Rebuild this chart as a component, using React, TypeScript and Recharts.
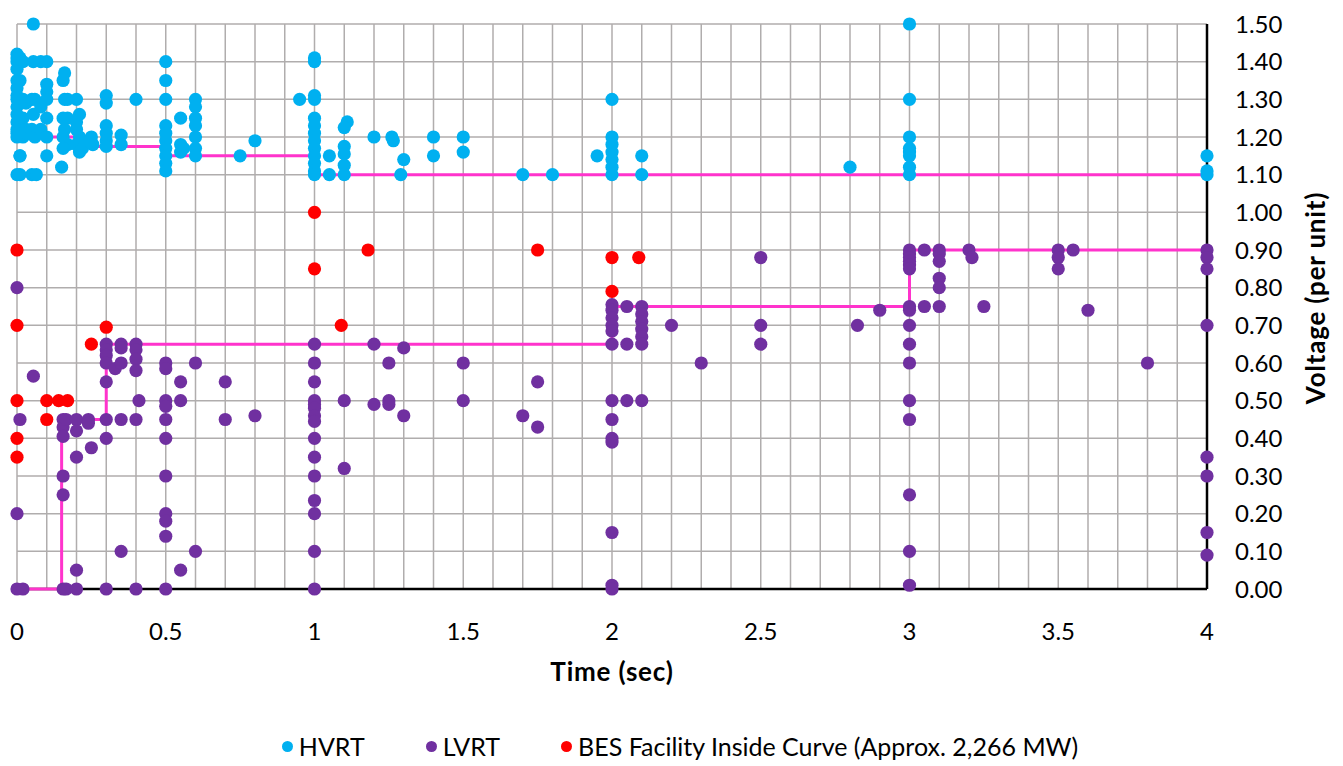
import React from "react";
import { ScatterChart, Scatter, XAxis, YAxis, CartesianGrid, Legend } from "recharts";

// axis ticks (grid every 0.1)
const timeTicks = [
  0, 0.1, 0.2, 0.3, 0.4, 0.5, 0.6, 0.7, 0.8, 0.9, 1, 1.1, 1.2, 1.3, 1.4, 1.5, 1.6, 1.7, 1.8, 1.9, 2,
  2.1, 2.2, 2.3, 2.4, 2.5, 2.6, 2.7, 2.8, 2.9, 3, 3.1, 3.2, 3.3, 3.4, 3.5, 3.6, 3.7, 3.8, 3.9, 4,
];
const voltTicks = [0, 0.1, 0.2, 0.3, 0.4, 0.5, 0.6, 0.7, 0.8, 0.9, 1, 1.1, 1.2, 1.3, 1.4, 1.5];

const legendNames = ["HVRT", "LVRT", "BES Facility Inside Curve (Approx. 2,266 MW)"];

// [time (sec), voltage (pu)]
const hvrtPoints: [number, number][] = [
  [0, 1.42], [0, 1.41], [0, 1.4], [0, 1.38], [0, 1.35], [0, 1.33], [0, 1.31], [0, 1.3], [0, 1.28],
  [0, 1.26], [0, 1.24], [0, 1.22], [0, 1.21], [0, 1.2], [0.01, 1.15], [0, 1.1],
  [0.01, 1.41], [0.02, 1.4], [0.01, 1.35], [0.02, 1.3], [0.03, 1.29], [0.02, 1.25], [0.03, 1.22],
  [0.02, 1.2], [0.03, 1.21], [0.01, 1.15], [0.01, 1.1],
  [0.055, 1.5], [0.055, 1.4], [0.05, 1.3], [0.06, 1.3], [0.055, 1.26], [0.05, 1.22], [0.06, 1.2],
  [0.05, 1.1], [0.065, 1.1],
  [0.08, 1.4], [0.1, 1.4], [0.1, 1.34], [0.1, 1.32], [0.1, 1.3], [0.08, 1.28], [0.1, 1.25],
  [0.08, 1.22], [0.1, 1.2], [0.1, 1.15],
  [0.16, 1.37], [0.155, 1.35], [0.16, 1.3], [0.17, 1.3], [0.155, 1.25], [0.17, 1.25], [0.16, 1.22],
  [0.155, 1.2], [0.17, 1.18], [0.155, 1.17], [0.15, 1.12],
  [0.2, 1.3], [0.21, 1.26], [0.2, 1.24], [0.2, 1.22], [0.21, 1.2], [0.2, 1.18], [0.22, 1.17], [0.21, 1.16],
  [0.25, 1.2], [0.255, 1.18], [0.24, 1.19],
  [0.3, 1.31], [0.3, 1.29], [0.3, 1.23], [0.3, 1.21], [0.3, 1.19], [0.3, 1.175],
  [0.35, 1.205], [0.35, 1.18], [0.4, 1.3],
  [0.5, 1.4], [0.5, 1.35], [0.5, 1.3], [0.5, 1.23], [0.5, 1.21], [0.5, 1.19], [0.5, 1.17], [0.5, 1.15],
  [0.5, 1.13], [0.5, 1.11],
  [0.55, 1.25], [0.55, 1.18], [0.55, 1.16], [0.56, 1.17],
  [0.6, 1.3], [0.6, 1.28], [0.6, 1.25], [0.6, 1.23], [0.6, 1.2], [0.6, 1.17], [0.6, 1.15],
  [0.75, 1.15], [0.8, 1.19], [0.95, 1.3],
  [1, 1.41], [1, 1.4], [1, 1.31], [1, 1.3], [1, 1.25], [1, 1.23], [1, 1.21], [1, 1.19], [1, 1.17],
  [1, 1.15], [1, 1.13], [1, 1.11], [1, 1.1],
  [1.05, 1.15], [1.05, 1.1],
  [1.11, 1.24], [1.1, 1.225], [1.1, 1.175], [1.1, 1.155], [1.1, 1.125], [1.1, 1.1],
  [1.2, 1.2], [1.26, 1.2], [1.265, 1.19], [1.29, 1.1], [1.3, 1.14],
  [1.4, 1.2], [1.4, 1.15], [1.5, 1.2], [1.5, 1.16],
  [1.7, 1.1], [1.8, 1.1], [1.95, 1.15],
  [2, 1.3], [2, 1.2], [2, 1.18], [2, 1.16], [2, 1.14], [2, 1.12], [2, 1.1],
  [2.1, 1.15], [2.1, 1.1], [2.8, 1.12],
  [3, 1.5], [3, 1.3], [3, 1.2], [3, 1.17], [3, 1.16], [3, 1.15], [3, 1.12], [3, 1.1],
  [4, 1.15], [4, 1.11], [4, 1.1],
];

const lvrtPoints: [number, number][] = [
  [0, 0.8], [0.055, 0.565], [0.01, 0.45], [0, 0.2], [0, 0], [0.02, 0],
  [0.155, 0.45], [0.155, 0.43], [0.155, 0.405], [0.165, 0.45], [0.2, 0.45], [0.2, 0.42], [0.24, 0.45], [0.24, 0.44],
  [0.155, 0.3], [0.155, 0.25], [0.2, 0.35], [0.25, 0.375], [0.2, 0.05],
  [0.155, 0], [0.165, 0], [0.2, 0], [0.3, 0], [0.4, 0], [0.5, 0], [1, 0],
  [0.3, 0.45], [0.3, 0.4], [0.3, 0.55], [0.3, 0.65], [0.3, 0.635], [0.3, 0.62], [0.3, 0.6],
  [0.33, 0.585], [0.35, 0.6], [0.35, 0.65], [0.35, 0.64],
  [0.4, 0.65], [0.4, 0.635], [0.4, 0.61], [0.4, 0.58], [0.35, 0.45], [0.4, 0.45], [0.41, 0.5], [0.35, 0.1],
  [0.5, 0.6], [0.5, 0.585], [0.5, 0.5], [0.5, 0.485], [0.5, 0.45], [0.5, 0.4], [0.5, 0.3], [0.5, 0.2],
  [0.5, 0.18], [0.5, 0.14],
  [0.55, 0.55], [0.55, 0.5], [0.55, 0.05], [0.6, 0.6], [0.6, 0.1], [0.7, 0.55], [0.7, 0.45], [0.8, 0.46],
  [1, 0.65], [1, 0.6], [1, 0.55], [1, 0.5], [1, 0.49], [1, 0.48], [1, 0.46], [1, 0.445], [1, 0.4],
  [1, 0.35], [1, 0.3], [1, 0.235], [1, 0.2], [1, 0.1],
  [1.1, 0.5], [1.1, 0.32],
  [1.2, 0.65], [1.3, 0.64], [1.25, 0.6], [1.2, 0.49], [1.25, 0.5], [1.25, 0.49], [1.3, 0.46],
  [1.5, 0.6], [1.5, 0.5], [1.7, 0.46], [1.75, 0.55], [1.75, 0.43],
  [2, 0.755], [2, 0.74], [2, 0.72], [2, 0.7], [2, 0.685], [2, 0.65], [2, 0.5], [2, 0.45], [2, 0.4],
  [2, 0.39], [2, 0.15], [2, 0.01], [2, 0],
  [2.05, 0.75], [2.1, 0.75], [2.1, 0.73], [2.1, 0.71], [2.1, 0.69], [2.1, 0.67], [2.05, 0.65], [2.1, 0.65],
  [2.05, 0.5], [2.1, 0.5],
  [2.2, 0.7], [2.3, 0.6], [2.5, 0.88], [2.5, 0.7], [2.5, 0.65], [2.825, 0.7], [2.9, 0.74],
  [3, 0.9], [3, 0.89], [3, 0.88], [3, 0.87], [3, 0.86], [3, 0.85], [3, 0.75], [3, 0.74], [3, 0.7],
  [3, 0.65], [3, 0.6], [3, 0.5], [3, 0.45], [3, 0.25], [3, 0.1], [3, 0.01],
  [3.05, 0.9], [3.05, 0.75], [3.1, 0.9], [3.1, 0.89], [3.1, 0.87], [3.1, 0.825], [3.1, 0.8], [3.1, 0.75],
  [3.2, 0.9], [3.21, 0.88], [3.25, 0.75],
  [3.5, 0.9], [3.5, 0.88], [3.5, 0.85], [3.55, 0.9], [3.6, 0.74], [3.8, 0.6],
  [4, 0.9], [4, 0.88], [4, 0.85], [4, 0.7], [4, 0.35], [4, 0.3], [4, 0.15], [4, 0.09],
];

const besPoints: [number, number][] = [
  [0, 0.9], [0, 0.7], [0, 0.5], [0, 0.4], [0, 0.35], [0.1, 0.5], [0.1, 0.45], [0.14, 0.5], [0.17, 0.5],
  [0.25, 0.65], [0.3, 0.695], [1, 1.0], [1, 0.85], [1.09, 0.7], [1.18, 0.9], [1.75, 0.9],
  [2, 0.88], [2.09, 0.88], [2, 0.79],
];

// ride-through curves
const hvrtCurve: [number, number][] = [
  [0, 1.2], [0.2, 1.2], [0.2, 1.175], [0.5, 1.175], [0.5, 1.15], [1, 1.15], [1, 1.1], [4, 1.1],
];
const lvrtCurve: [number, number][] = [
  [0, 0], [0.15, 0], [0.15, 0.45], [0.3, 0.45], [0.3, 0.65], [2, 0.65], [2, 0.75], [3, 0.75], [3, 0.9], [4, 0.9],
];

const colors = ["#00B0F0", "#7030A0", "#FF0000"];
const PINK = "#FF33CC";

const rows = (pts: [number, number][]) => pts.map(([t, v]) => ({ t, v }));

const dot = (color: string) => (p: any) => <circle cx={p.cx} cy={p.cy} r={6.6} fill={color} />;
const noDot = () => <g />;

const fmtTime = (v: number) => (Math.abs(v * 2 - Math.round(v * 2)) < 1e-6 ? String(v) : "");

const XTitle = () => (
  <text x={612} y={671} textAnchor="middle" dominantBaseline="central" fontSize={26} fontWeight="bold" letterSpacing={0.8} fill="#000">
    Time (sec)
  </text>
);

const YTitle = () => (
  <text
    x={1315}
    y={298}
    textAnchor="middle"
    dominantBaseline="central"
    fontSize={26}
    fontWeight="bold"
    letterSpacing={0.8}
    fill="#000"
    transform="rotate(-90, 1315, 298)"
  >
    Voltage (per unit)
  </text>
);

const renderLegend = () => (
  <div style={{ height: 40, display: "flex", justifyContent: "center", alignItems: "center", gap: 61 }}>
    {legendNames.map((name, i) => (
      <div key={name} style={{ display: "flex", alignItems: "center", gap: 6 }}>
        <span style={{ width: 11, height: 11, borderRadius: "50%", background: colors[i], display: "inline-block" }} />
        <span style={{ fontSize: 25, color: "#000" }}>{name}</span>
      </div>
    ))}
  </div>
);

export default function App() {
  return (
    <div style={{ position: "absolute", left: 0, top: 0, fontFamily: "Lato, sans-serif", background: "#fff" }}>
      <ScatterChart width={1343} height={766} margin={{ top: 24, right: 0, bottom: 0, left: 17 }}>
        <CartesianGrid stroke="#B0ADAD" strokeWidth={1.5} />
        <XAxis
          type="number"
          dataKey="t"
          domain={[0, 4]}
          ticks={timeTicks}
          interval={0}
          tickFormatter={fmtTime}
          tickLine={false}
          tickSize={0}
          tickMargin={34}
          axisLine={{ stroke: "#000", strokeWidth: 2.5 }}
          tick={{ fill: "#000", fontSize: 24 }}
          height={137}
          label={<XTitle />}
        />
        <YAxis
          type="number"
          dataKey="v"
          orientation="right"
          domain={[0, 1.5]}
          ticks={voltTicks}
          interval={0}
          tickFormatter={(v: number) => v.toFixed(2)}
          tickLine={false}
          tickSize={0}
          tickMargin={28}
          axisLine={{ stroke: "#000", strokeWidth: 2.5 }}
          tick={{ fill: "#000", fontSize: 24 }}
          width={136}
          label={<YTitle />}
        />
        <Legend verticalAlign="bottom" align="center" content={renderLegend} />
        <Scatter data={rows(hvrtCurve)} line={{ stroke: PINK, strokeWidth: 3 }} lineType="joint" shape={noDot} legendType="none" isAnimationActive={false} />
        <Scatter data={rows(lvrtCurve)} line={{ stroke: PINK, strokeWidth: 3 }} lineType="joint" shape={noDot} legendType="none" isAnimationActive={false} />
        <Scatter name={legendNames[0]} data={rows(hvrtPoints)} shape={dot(colors[0])} isAnimationActive={false} />
        <Scatter name={legendNames[1]} data={rows(lvrtPoints)} shape={dot(colors[1])} isAnimationActive={false} />
        <Scatter name={legendNames[2]} data={rows(besPoints)} shape={dot(colors[2])} isAnimationActive={false} />
      </ScatterChart>
    </div>
  );
}
